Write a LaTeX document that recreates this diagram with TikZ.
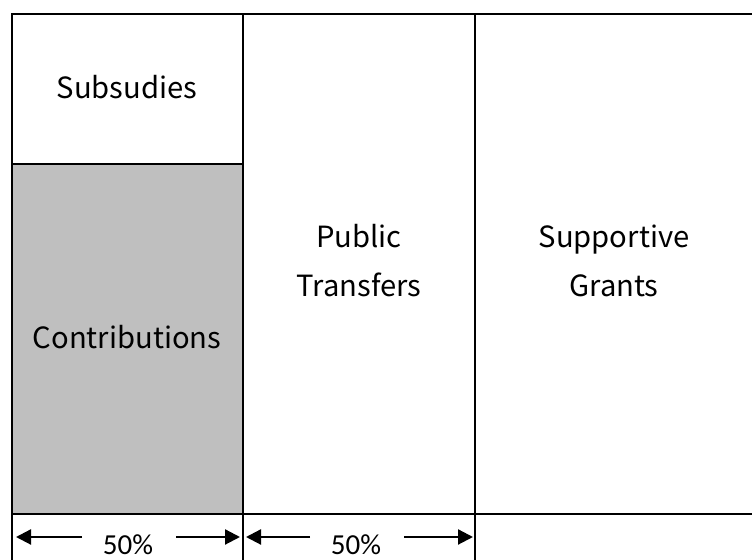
\documentclass[tikz,border=0pt]{standalone}
\usepackage{fontspec}
\setmainfont{Noto Sans CJK JP}
\newfontfamily\pctfont{Carlito}
\usetikzlibrary{arrows.meta}

\begin{document}
\begin{tikzpicture}[x=0.5pt,y=-0.5pt,
        cell/.style={line width=1.4pt},
        lbl/.style={align=center,font=\fontsize{14.6}{24.5}\selectfont},
        pct/.style={font=\pctfont\fontsize{14.5}{17}\selectfont},
        span/.style={line width=1.1pt,-{Triangle[length=7.5pt,width=7.5pt]}}]
        \clip (0,0) rectangle (752,560);
        \fill[white] (0,0) rectangle (752,560);

        % shaded block
        \fill[gray!50] (12,164) rectangle (243,514);

        % grid lines
        \draw[cell] (760,14) -- (12,14) -- (12,570);
        \draw[cell] (243,14) -- (243,570);
        \draw[cell] (475,14) -- (475,570);
        \draw[cell] (12,164) -- (243,164);
        \draw[cell] (12,514) -- (760,514);

        % labels
        \node[lbl] (subs) at (127,87) {Subsudies};
        \node[lbl] (contrib) at (127,337) {Contributions};
        \node[lbl] (pubtr) at (359,261) {Public\\Transfers};
        \node[lbl] (suppgr) at (614,261) {Supportive\\Grants};

        % 50% spans
        \node[pct, anchor=base] (pctA) at (128,555) {50\%};
        \node[pct, anchor=base] (pctB) at (356,555) {50\%};

        \coordinate (aLtail) at (82,537);
        \coordinate (aLtip) at (16,537);
        \coordinate (aRtail) at (176,537);
        \coordinate (aRtip) at (240,537);
        \coordinate (bLtail) at (310,537);
        \coordinate (bLtip) at (246,537);
        \coordinate (bRtail) at (404,537);
        \coordinate (bRtip) at (473,537);

        \draw[span] (aLtail) -- (aLtip);
        \draw[span] (aRtail) -- (aRtip);
        \draw[span] (bLtail) -- (bLtip);
        \draw[span] (bRtail) -- (bRtip);
    \end{tikzpicture}
\end{document}
